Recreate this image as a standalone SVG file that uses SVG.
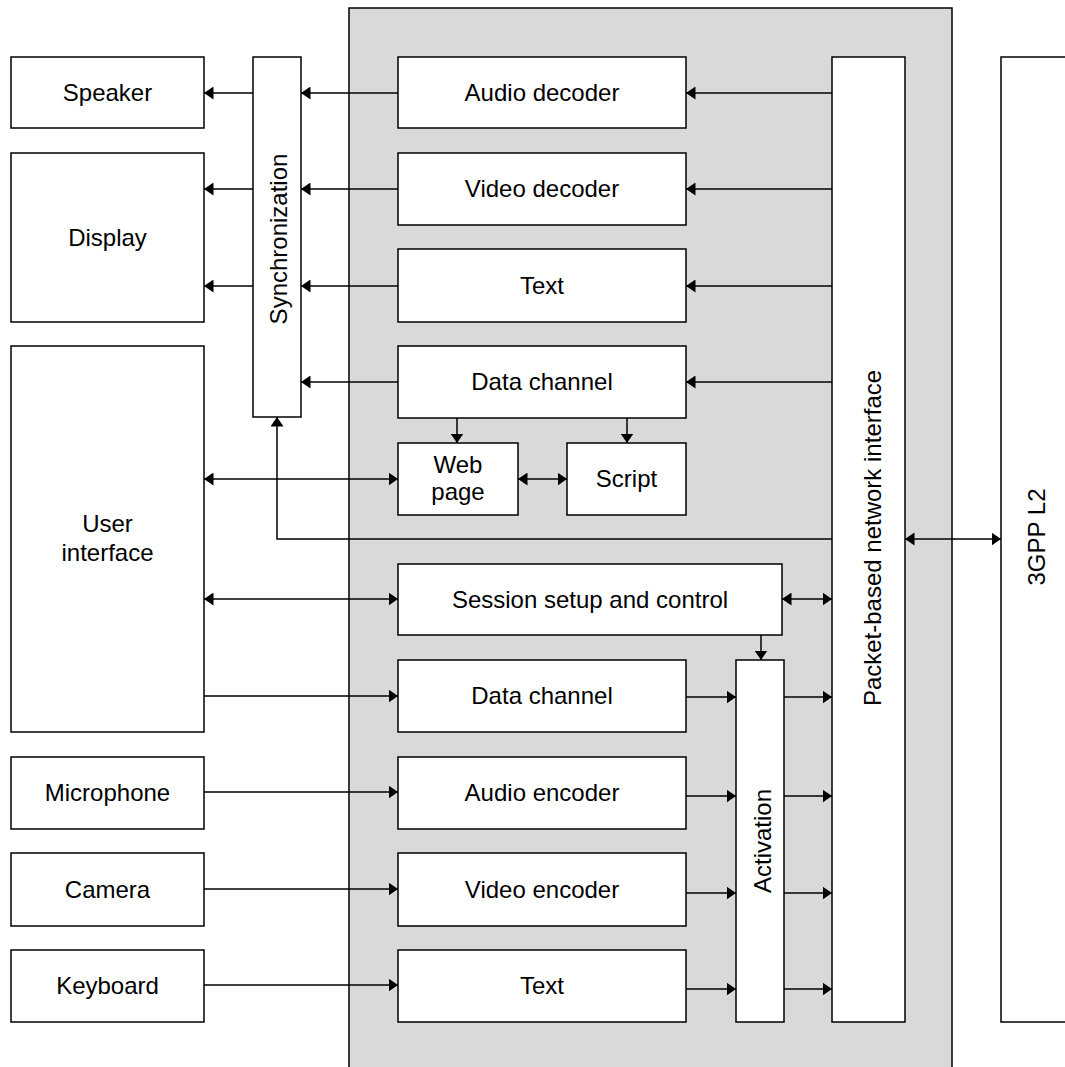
<svg xmlns="http://www.w3.org/2000/svg" width="1065" height="1067" viewBox="0 0 1065 1067">
<style>
.box{fill:#fff;stroke:#000;stroke-width:1.5}
.panel{fill:#d9d9d9;stroke:#000;stroke-width:1.5}
.t{font-family:"Liberation Sans",Arial,sans-serif;font-size:24px;fill:#000;text-anchor:middle}
.c{fill:none;stroke:#000;stroke-width:1.5}
.a{marker-end:url(#ah)}
.b{marker-start:url(#ah);marker-end:url(#ah)}
</style>
<defs>
<marker id="ah" markerUnits="userSpaceOnUse" markerWidth="10" markerHeight="13" refX="9.5" refY="6.5" orient="auto-start-reverse" viewBox="0 0 10 13">
<path d="M0,0 L9.5,6.5 L0,13 z" fill="#000"/>
</marker>
</defs>
<rect class="panel" x="349" y="8" width="603" height="1070"/>
<g id="speaker"><rect class="box" x="11" y="57" width="193" height="71"/><text class="t" x="107.5" y="101">Speaker</text></g>
<g id="display"><rect class="box" x="11" y="153" width="193" height="169"/><text class="t" x="107.5" y="246">Display</text></g>
<g id="user-interface"><rect class="box" x="11" y="346" width="193" height="386"/><text class="t" x="107.5" y="532">User</text><text class="t" x="107.5" y="561">interface</text></g>
<g id="microphone"><rect class="box" x="11" y="757" width="193" height="72"/><text class="t" x="107.5" y="801">Microphone</text></g>
<g id="camera"><rect class="box" x="11" y="853" width="193" height="73"/><text class="t" x="107.5" y="898">Camera</text></g>
<g id="keyboard"><rect class="box" x="11" y="950" width="193" height="72"/><text class="t" x="107.5" y="994">Keyboard</text></g>
<g id="synchronization"><rect class="box" x="253" y="57" width="48" height="360"/><text class="t" transform="translate(287,239) rotate(-90)" x="0" y="0">Synchronization</text></g>
<g id="audio-decoder"><rect class="box" x="398" y="57" width="288" height="71"/><text class="t" x="542" y="101">Audio decoder</text></g>
<g id="video-decoder"><rect class="box" x="398" y="153" width="288" height="72"/><text class="t" x="542" y="197">Video decoder</text></g>
<g id="text-in"><rect class="box" x="398" y="249" width="288" height="73"/><text class="t" x="542" y="294">Text</text></g>
<g id="data-channel-in"><rect class="box" x="398" y="346" width="288" height="72"/><text class="t" x="542" y="390">Data channel</text></g>
<g id="web-page"><rect class="box" x="398" y="443" width="120" height="72"/><text class="t" x="458" y="473">Web</text><text class="t" x="458" y="500">page</text></g>
<g id="script"><rect class="box" x="567" y="443" width="119" height="72"/><text class="t" x="626.5" y="487">Script</text></g>
<g id="session"><rect class="box" x="398" y="564" width="384" height="71"/><text class="t" x="590" y="608">Session setup and control</text></g>
<g id="data-channel-out"><rect class="box" x="398" y="660" width="288" height="72"/><text class="t" x="542" y="704">Data channel</text></g>
<g id="audio-encoder"><rect class="box" x="398" y="757" width="288" height="72"/><text class="t" x="542" y="801">Audio encoder</text></g>
<g id="video-encoder"><rect class="box" x="398" y="853" width="288" height="73"/><text class="t" x="542" y="898">Video encoder</text></g>
<g id="text-out"><rect class="box" x="398" y="950" width="288" height="72"/><text class="t" x="542" y="994">Text</text></g>
<g id="activation"><rect class="box" x="736" y="660" width="48" height="362"/><text class="t" transform="translate(771,841) rotate(-90)" x="0" y="0">Activation</text></g>
<g id="packet-interface"><rect class="box" x="832" y="57" width="73" height="965"/><text class="t" transform="translate(881,538) rotate(-90)" x="0" y="0">Packet-based network interface</text></g>
<g id="l2"><rect class="box" x="1001" y="57" width="90" height="965"/><text class="t" transform="translate(1045,537) rotate(-90)" x="0" y="0">3GPP L2</text></g>
<g id="connectors">
<line class="c a" x1="253" y1="93" x2="204" y2="93"/>
<line class="c a" x1="253" y1="189" x2="204" y2="189"/>
<line class="c a" x1="253" y1="286" x2="204" y2="286"/>
<line class="c a" x1="398" y1="93" x2="301" y2="93"/>
<line class="c a" x1="398" y1="189" x2="301" y2="189"/>
<line class="c a" x1="398" y1="286" x2="301" y2="286"/>
<line class="c a" x1="398" y1="382" x2="301" y2="382"/>
<line class="c a" x1="832" y1="93" x2="686" y2="93"/>
<line class="c a" x1="832" y1="189" x2="686" y2="189"/>
<line class="c a" x1="832" y1="286" x2="686" y2="286"/>
<line class="c a" x1="832" y1="382" x2="686" y2="382"/>
<line class="c a" x1="457" y1="418" x2="457" y2="443"/>
<line class="c a" x1="627" y1="418" x2="627" y2="443"/>
<line class="c b" x1="518" y1="479" x2="567" y2="479"/>
<line class="c b" x1="204" y1="479" x2="398" y2="479"/>
<path class="c a" d="M832,539 H277 V417"/>
<line class="c b" x1="905" y1="539" x2="1001" y2="539"/>
<line class="c b" x1="204" y1="599" x2="398" y2="599"/>
<line class="c b" x1="782" y1="599" x2="832" y2="599"/>
<line class="c a" x1="761" y1="635" x2="761" y2="660"/>
<line class="c a" x1="204" y1="696" x2="398" y2="696"/>
<line class="c a" x1="204" y1="792" x2="398" y2="792"/>
<line class="c a" x1="204" y1="889" x2="398" y2="889"/>
<line class="c a" x1="204" y1="985" x2="398" y2="985"/>
<line class="c a" x1="686" y1="697" x2="736" y2="697"/>
<line class="c a" x1="686" y1="796" x2="736" y2="796"/>
<line class="c a" x1="686" y1="893" x2="736" y2="893"/>
<line class="c a" x1="686" y1="989" x2="736" y2="989"/>
<line class="c a" x1="784" y1="697" x2="832" y2="697"/>
<line class="c a" x1="784" y1="796" x2="832" y2="796"/>
<line class="c a" x1="784" y1="893" x2="832" y2="893"/>
<line class="c a" x1="784" y1="989" x2="832" y2="989"/>
</g>
</svg>
